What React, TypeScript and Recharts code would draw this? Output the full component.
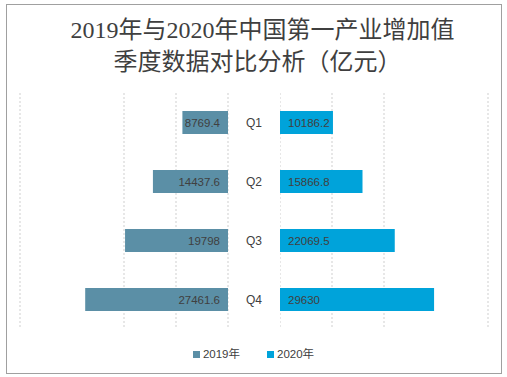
import { Bar, BarChart, CartesianGrid, LabelList, XAxis, YAxis } from "recharts";

const quarters = ["Q1", "Q2", "Q3", "Q4"];
const values2019 = [8769.4, 14437.6, 19798, 27461.6];
const values2020 = [10186.2, 15866.8, 22069.5, 29630];
const xTicks = [0, 10000, 20000, 30000, 40000];
const seriesNames = ["2019年", "2020年"];

const COLOR_2019 = "#5b8fa6";
const COLOR_2020 = "#00a3da";
const TEXT = "#404040";
const LABEL_FONT = "'Liberation Sans', 'Noto Sans CJK SC', sans-serif";

const data = quarters.map((q, i) => ({ q, v2019: values2019[i], v2020: values2020[i] }));

// label sits at the inner (centre) end of each bar
function leftLabel(props: any) {
  const { x, y, width, height, value } = props;
  const inner = Math.max(x, x + width);
  return (
    <text x={inner - 8} y={y + height / 2} textAnchor="end" dominantBaseline="central"
      fontSize={11.5} fill={TEXT} fontFamily={LABEL_FONT}>
      {String(value)}
    </text>
  );
}

function rightLabel(props: any) {
  const { x, y, width, height, value } = props;
  const inner = Math.min(x, x + width);
  return (
    <text x={inner + 8} y={y + height / 2} textAnchor="start" dominantBaseline="central"
      fontSize={11.5} fill={TEXT} fontFamily={LABEL_FONT}>
      {String(value)}
    </text>
  );
}

export default function App() {
  return (
    <div style={{ position: "absolute", left: 0, top: 0, width: 507, height: 377, background: "#fff" }}>
      <div style={{ position: "absolute", left: 6, top: 4, width: 494, height: 368, border: "1px solid #a0a0a0" }} />
      <div
        style={{
          position: "absolute", left: 0, top: 14, width: 525, textAlign: "center",
          fontFamily: "'Liberation Serif', 'Noto Sans CJK SC', serif", fontSize: 24, lineHeight: "32px", color: "#3f3f3f",
        }}
      >
        <div>2019年与2020年中国第一产业增加值</div>
        <div style={{ marginLeft: -10 }}>季度数据对比分析（亿元）</div>
      </div>

      <div style={{ position: "absolute", left: 19, top: 93 }}>
        <BarChart width={261} height={236} data={data} layout="vertical" margin={{ top: 0, right: 0, bottom: 0, left: 1 }} barSize={23}>
          <CartesianGrid horizontal={false} stroke="#cfcfcf" strokeDasharray="2 2" />
          <XAxis type="number" hide domain={[0, 40000]} ticks={xTicks} reversed />
          <YAxis
            type="category"
            dataKey="q"
            orientation="right"
            width={52}
            axisLine={false}
            tickLine={false}
            tickSize={0}
            tickMargin={26}
            tick={{ textAnchor: "middle", fontSize: 12, fill: TEXT, fontFamily: LABEL_FONT }}
          />
          <Bar dataKey="v2019" name={seriesNames[0]} fill={COLOR_2019} isAnimationActive={false}>
            <LabelList dataKey="v2019" content={leftLabel} />
          </Bar>
        </BarChart>
      </div>

      <div style={{ position: "absolute", left: 280, top: 93 }}>
        <BarChart width={209} height={236} data={data} layout="vertical" margin={{ top: 0, right: 1, bottom: 0, left: 0 }} barSize={23}>
          <CartesianGrid horizontal={false} stroke="#cfcfcf" strokeDasharray="2 2" />
          <XAxis type="number" hide domain={[0, 40000]} ticks={xTicks} />
          <YAxis type="category" dataKey="q" hide />
          <Bar dataKey="v2020" name={seriesNames[1]} fill={COLOR_2020} isAnimationActive={false}>
            <LabelList dataKey="v2020" content={rightLabel} />
          </Bar>
        </BarChart>
      </div>

      <div
        style={{
          position: "absolute", left: 0, top: 346, width: 507, display: "flex", justifyContent: "center",
          fontFamily: LABEL_FONT, fontSize: 11.5, color: TEXT, lineHeight: "16px",
        }}
      >
        {seriesNames.map((name, i) => (
          <span key={name} style={{ display: "flex", alignItems: "center", marginRight: i === 0 ? 27 : 0 }}>
            <span style={{ width: 7, height: 7, background: i === 0 ? COLOR_2019 : COLOR_2020, marginRight: 3 }} />
            {name}
          </span>
        ))}
      </div>
    </div>
  );
}
